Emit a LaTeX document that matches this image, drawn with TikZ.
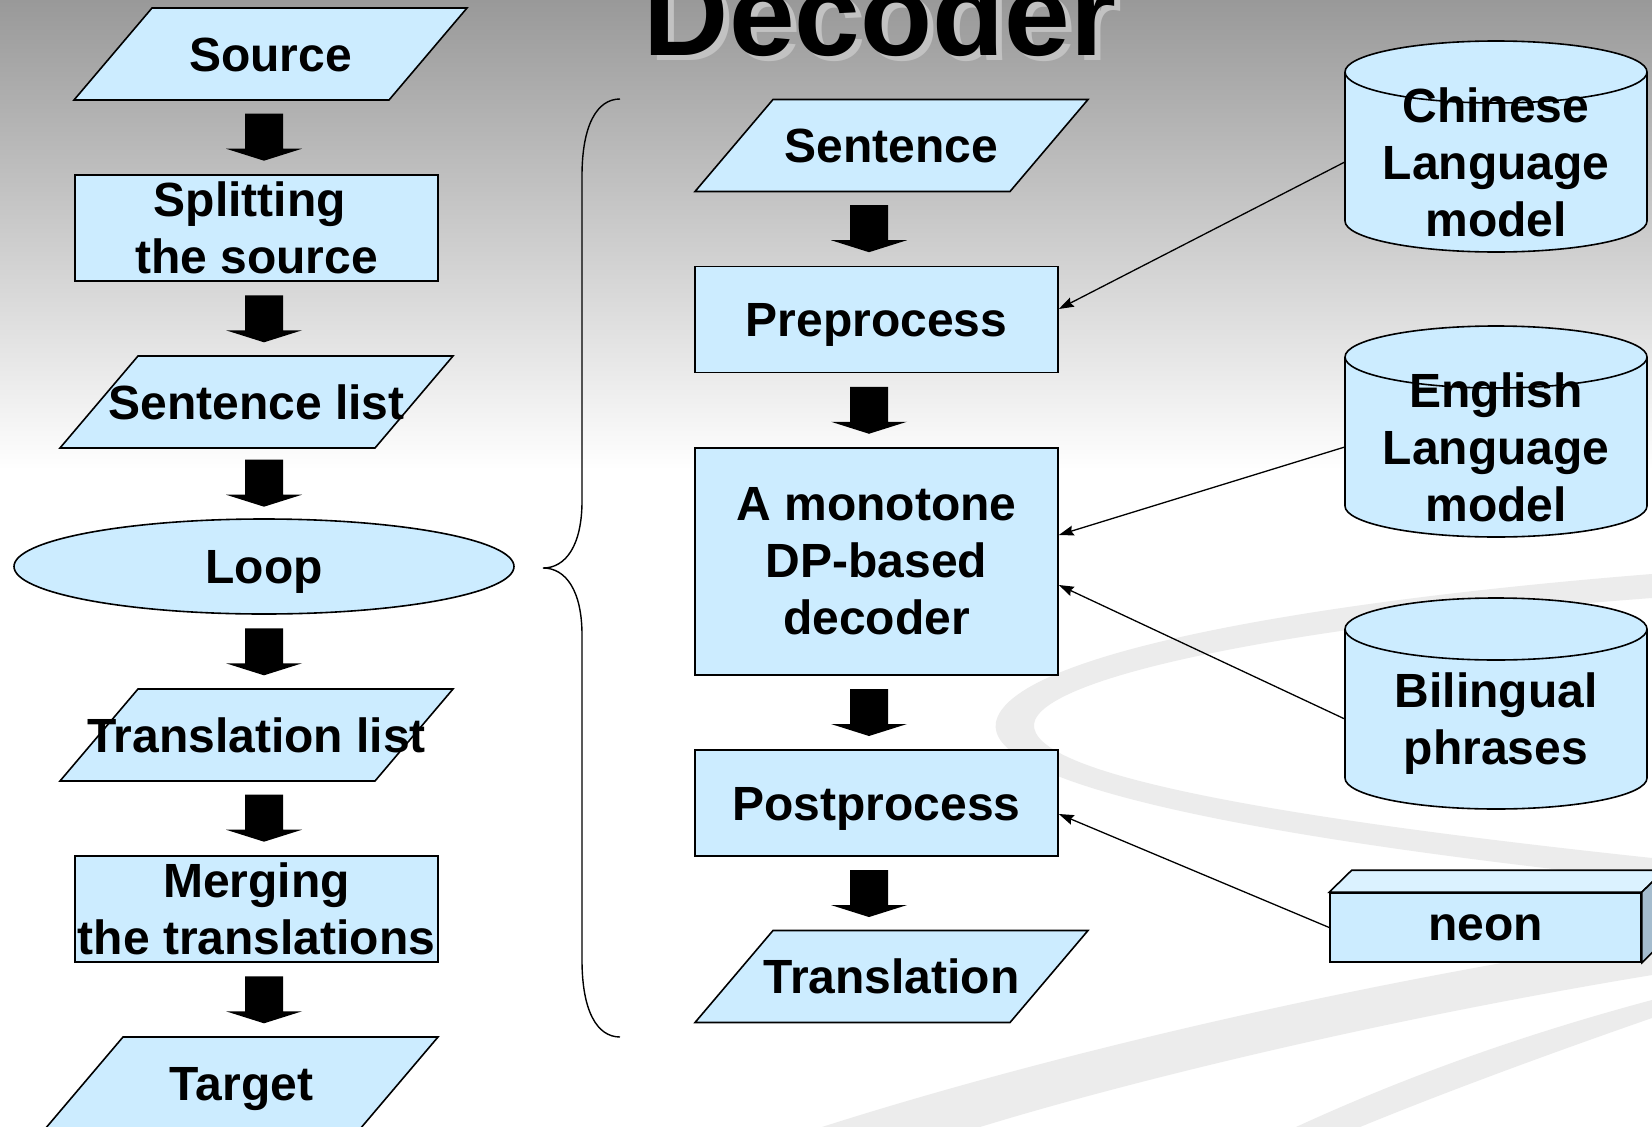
\documentclass[tikz,border=0pt]{standalone}
\usepackage{fontspec}
\setmainfont{Liberation Sans}
\usetikzlibrary{calc,arrows.meta,shapes.geometric}

\pgfdeclarelayer{back}
\pgfdeclarelayer{mid}
\pgfsetlayers{back,mid,main}

\definecolor{boxfill}{RGB}{204,236,255}
\definecolor{boxtop}{RGB}{219,242,255}
\definecolor{boxside}{RGB}{164,188,206}
\definecolor{swirlgray}{RGB}{236,236,236}

\tikzset{
  txt/.style={font=\fontsize{48}{57}\selectfont\bfseries, inner sep=0pt},
  oneline/.style={txt, text height=34.5pt, text depth=0pt},
  lines/.style={txt, align=center},
  edge/.style={draw=black, line width=1.6pt},
  filled/.style={edge, fill=boxfill},
  procbox/.style={filled, minimum width=363pt, minimum height=106pt},
  slantnode/.style={minimum width=315pt, minimum height=92pt},
  drumnode/.style={minimum width=302pt},
  feed/.style={line width=1.3pt, -{Stealth[length=15pt,width=10pt,inset=2pt]}},
  blockarrow/.style={fill=black, to path={let \p1=(\tikztostart), \p2=(\tikztotarget), \n1={(\y1+\y2)/2} in
    ({\x1-19pt},{\n1+23.5pt}) -- ({\x1+19pt},{\n1+23.5pt}) -- ({\x1+19pt},{\n1-11.5pt})
    -- ({\x1+38pt},{\n1-11.5pt}) -- (\x1,{\n1-23.5pt}) -- ({\x1-38pt},{\n1-11.5pt})
    -- ({\x1-19pt},{\n1-11.5pt}) -- cycle}},
  titlefont/.style={font=\fontsize{118}{130}\selectfont\bfseries, inner sep=0pt, anchor=base}
}

% data symbol: a slanted box of fixed size round a text node
\newcommand{\slantoutline}[1]{%
  \filldraw[filled] ($(#1.center)+(-118.5,46)$) -- ($(#1.center)+(196.5,46)$)
    -- ($(#1.center)+(118.5,-46)$) -- ($(#1.center)+(-196.5,-46)$) -- cycle;}

% stored-data symbol: an upright drum round a text node
\newcommand{\drumoutline}[1]{%
  \filldraw[filled] ($(#1.center)+(-151,90)$) -- ($(#1.center)+(-151,-59)$)
    arc[start angle=180,end angle=360,x radius=151,y radius=31]
    -- ($(#1.center)+(151,90)$)
    arc[start angle=0,end angle=180,x radius=151,y radius=31] -- cycle;
  \draw[edge] ($(#1.center)+(-151,90)$) arc[start angle=180,end angle=360,x radius=151,y radius=31];}

\begin{document}
\begin{tikzpicture}[x=1pt,y=1pt]
\useasboundingbox (0,0) rectangle (1652,-1127);

% backdrop: grey fade at the top and pale ribbons at the lower right
\begin{pgfonlayer}{back}
  \fill[white] (0,0) rectangle (1652,-1127);
  \shade[top color=black!40, middle color=black!8, bottom color=white] (0,0) rectangle (1652,-470);
  \fill[swirlgray] (1652,-574) .. controls (1300,-602) and (1010,-655) .. (996,-722)
    .. controls (985,-778) and (1200,-832) .. (1652,-880) -- (1652,-858)
    .. controls (1250,-815) and (1030,-772) .. (1034,-724)
    .. controls (1040,-676) and (1300,-624) .. (1652,-598) -- cycle;
  \fill[swirlgray] (822,-1127) .. controls (1000,-1070) and (1300,-992) .. (1652,-938)
    -- (1652,-975) .. controls (1350,-1025) and (1100,-1090) .. (980,-1127) -- cycle;
  \fill[swirlgray] (1296,-1127) .. controls (1420,-1070) and (1540,-1030) .. (1652,-1000)
    -- (1652,-1018) .. controls (1560,-1050) and (1450,-1090) .. (1360,-1127) -- cycle;
\end{pgfonlayer}

% axes of the two columns of block arrows
\coordinate (colL) at (264,0);
\coordinate (colM) at (869,0);

% title with its drop shadow
\node[titlefont, text=black!24] (titleshade) at (886,-60) {Decoder};
\node[titlefont] (title) at (880,-55) {Decoder};

% outer loop
\node[oneline, slantnode] (src) at (270.5,-54) {Source};
\node[lines, procbox] (split) at (256.5,-228) {Splitting\hspace*{0.278em}\\the source};
\node[oneline, slantnode] (slist) at (256.5,-402) {Sentence list};
\node[oneline, filled, ellipse, minimum width=500pt, minimum height=95pt] (loop) at (264,-566.5) {Loop};
\node[oneline, slantnode] (tlist) at (256.5,-735) {Translation list};
\node[lines, procbox] (merge) at (256.5,-909) {Merging\\the translations};
\node[oneline, slantnode] (target) at (241.5,-1083) {Target};

% decoder pipeline
\node[oneline, slantnode] (sent) at (891.5,-145.5) {Sentence};
\node[oneline, procbox] (pre) at (876.5,-319.5) {Preprocess};
\node[lines, procbox, minimum height=227pt] (dec) at (876.5,-561.5) {A monotone\\DP-based\\decoder};
\node[oneline, procbox] (post) at (876.5,-803) {Postprocess};
\node[oneline, slantnode] (trans) at (891.5,-976.5) {Translation};

% resources
\node[lines, drumnode] (lmcn) at (1496,-162) {Chinese\\Language\\model};
\node[lines, drumnode] (lmen) at (1496,-447) {English\\Language\\model};
\node[lines, drumnode] (phr) at (1496,-719) {Bilingual\\\raisebox{0pt}[\height][0pt]{phrases}};
\node[txt, filled, text depth=0pt, minimum width=311pt, minimum height=69pt] (neon) at (1485.5,-927.5) {neon};

% outlines that sit behind the texts
\begin{pgfonlayer}{mid}
  \slantoutline{src}
  \slantoutline{slist}
  \slantoutline{tlist}
  \slantoutline{target}
  \slantoutline{sent}
  \slantoutline{trans}
  \drumoutline{lmcn}
  \drumoutline{lmen}
  \drumoutline{phr}
  \filldraw[edge, fill=boxtop] (neon.north west) -- ++(22.5,22)
    -- ($(neon.north east)+(22.5,22)$) -- (neon.north east) -- cycle;
  \filldraw[edge, fill=boxside] (neon.north east) -- ++(22.5,22)
    -- ($(neon.south east)+(22.5,22)$) -- (neon.south east) -- cycle;
\end{pgfonlayer}

% brace grouping the decoder pipeline
\draw[line width=1.4pt] (620,-99) .. controls (597,-99) and (582,-125) .. (582,-176)
  -- (582,-501) .. controls (582,-545) and (566,-568) .. (543,-568)
  .. controls (566,-568) and (582,-591) .. (582,-635)
  -- (582,-960) .. controls (582,-1011) and (597,-1037) .. (620,-1037);

% block arrows of the outer loop
\path[blockarrow] (src.south -| colL) to (split.north -| colL);
\path[blockarrow] (split.south -| colL) to (slist.north -| colL);
\path[blockarrow] (slist.south -| colL) to (loop.north -| colL);
\path[blockarrow] (loop.south -| colL) to (tlist.north -| colL);
\path[blockarrow] (tlist.south -| colL) to (merge.north -| colL);
\path[blockarrow] (merge.south -| colL) to (target.north -| colL);

% block arrows of the decoder pipeline
\path[blockarrow] (sent.south -| colM) to (pre.north -| colM);
\path[blockarrow] (pre.south -| colM) to (dec.north -| colM);
\path[blockarrow] (dec.south -| colM) to (post.north -| colM);
\path[blockarrow] (post.south -| colM) to (trans.north -| colM);

% resources feeding the decoder steps
\draw[feed] (lmcn.west) -- ([yshift=10.5pt]pre.east);
\draw[feed] (lmen.west) -- ([yshift=26.5pt]dec.east);
\draw[feed] (phr.west) -- ([yshift=-23.5pt]dec.east);
\draw[feed] (neon.west) -- ([yshift=-11pt]post.east);
\end{tikzpicture}
\end{document}
